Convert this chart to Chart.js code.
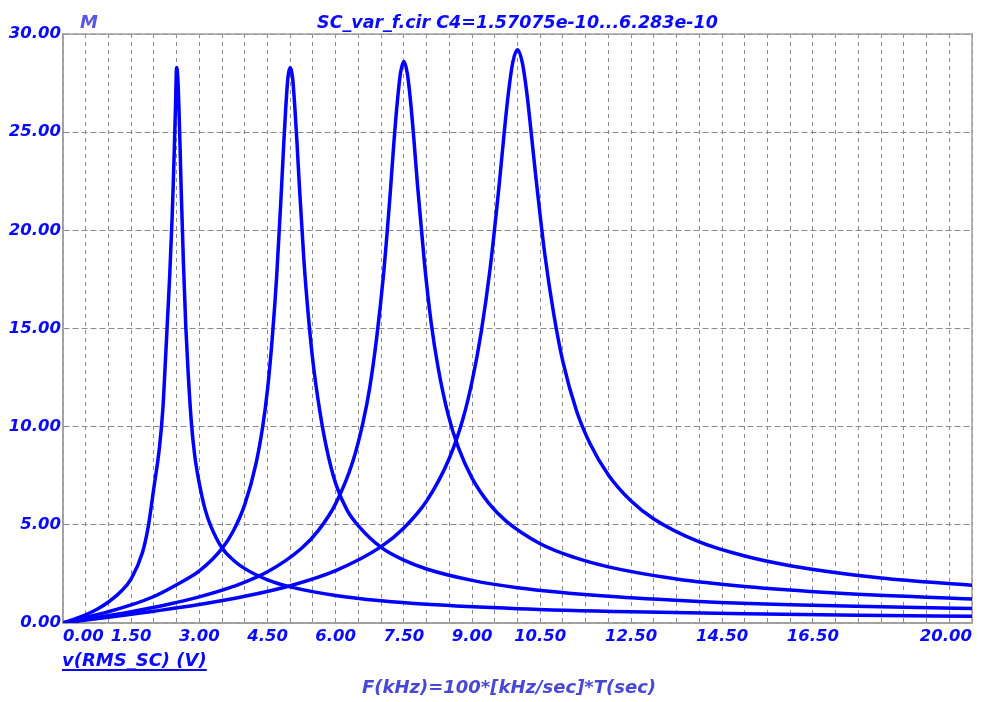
<!DOCTYPE html>
<html>
<head>
<meta charset="utf-8">
<script src="https://cdn.jsdelivr.net/npm/chart.js@4.4.1/dist/chart.umd.min.js"></script>
<style>
html, body { margin: 0; padding: 0; background: #fff; }
#wrap { width: 999px; height: 702px; }
</style>
</head>
<body>
<div id="wrap"><canvas id="chart" width="999" height="702"></canvas></div>
<script>
// curve 1 (resonance near 2.5)
const c1x = [0, 0.25, 0.5, 0.75, 1.0, 1.25, 1.5, 1.75, 1.875, 2.0, 2.125, 2.2, 2.25, 2.3, 2.35, 2.4, 2.425, 2.45, 2.475, 2.5, 2.525, 2.55, 2.575, 2.6, 2.65, 2.7, 2.75, 2.825, 2.9, 3.0, 3.125, 3.25, 3.5, 3.75, 4.0, 4.5, 5.0, 6.0, 7.0, 8.0, 10.0, 12.5, 15.0, 17.5, 20.0];
const c1y = [0, 0.2, 0.42, 0.7, 1.07, 1.55, 2.25, 3.6, 4.9, 6.9, 9.0, 11.0, 13.2, 15.5, 17.8, 20.6, 22.3, 24.2, 26.3, 28.3, 27.8, 26.3, 24.3, 22.1, 18.3, 15.2, 12.9, 10.2, 8.5, 7.1, 5.8, 4.95, 3.82, 3.2, 2.77, 2.2, 1.84, 1.4, 1.13, 0.95, 0.73, 0.57, 0.47, 0.40, 0.34];
// curve 2 (near 5)
const c2x = [0, 0.5, 1.0, 1.5, 2.0, 2.5, 3.0, 3.5, 3.75, 4.0, 4.25, 4.4, 4.5, 4.6, 4.7, 4.8, 4.85, 4.9, 4.95, 5.0, 5.05, 5.1, 5.15, 5.2, 5.3, 5.4, 5.5, 5.65, 5.8, 6.0, 6.25, 6.5, 7.0, 7.5, 8.0, 9.0, 10.0, 12.0, 14.0, 16.0, 18.0, 20.0];
const c2y = [0, 0.28, 0.58, 0.92, 1.35, 1.95, 2.65, 3.8, 4.7, 6.04, 8.16, 10.1, 11.9, 14.4, 17.6, 21.8, 24.1, 26.2, 27.8, 28.3, 27.8, 26.3, 24.4, 22.3, 18.5, 15.6, 13.3, 10.8, 8.9, 7.1, 5.75, 4.95, 3.85, 3.2, 2.75, 2.17, 1.8, 1.36, 1.1, 0.93, 0.83, 0.74];
// curve 3 (near 7.5)
const c3x = [0, 0.75, 1.5, 2.25, 3.0, 3.75, 4.5, 5.25, 5.625, 6.0, 6.375, 6.6, 6.75, 6.9, 7.05, 7.2, 7.275, 7.35, 7.425, 7.5, 7.575, 7.65, 7.725, 7.8, 7.95, 8.1, 8.25, 8.475, 8.7, 9.0, 9.375, 9.75, 10.5, 11.25, 12.0, 13.5, 15.0, 17.0, 20.0];
const c3y = [0, 0.28, 0.58, 0.92, 1.33, 1.86, 2.61, 3.81, 4.73, 6.08, 8.21, 10.2, 12.0, 14.5, 17.7, 21.9, 24.3, 26.4, 28.0, 28.6, 28.0, 26.5, 24.5, 22.3, 18.4, 15.3, 13.05, 10.6, 8.93, 7.38, 6.08, 5.19, 4.04, 3.34, 2.86, 2.24, 1.86, 1.53, 1.22];
// curve 4 (near 10)
const c4x = [0, 1, 2, 3, 4, 5, 6, 7, 7.5, 8, 8.5, 8.8, 9, 9.2, 9.4, 9.6, 9.7, 9.8, 9.9, 10, 10.1, 10.2, 10.3, 10.4, 10.6, 10.8, 11, 11.3, 11.6, 12, 12.5, 13, 14, 15, 16, 18, 20];
const c4y = [0, 0.29, 0.6, 0.94, 1.36, 1.9, 2.67, 3.89, 4.84, 6.21, 8.39, 10.4, 12.3, 14.8, 18.1, 22.4, 24.8, 27.0, 28.6, 29.2, 28.6, 27.1, 25.0, 22.8, 18.8, 15.7, 13.3, 10.8, 9.12, 7.54, 6.21, 5.3, 4.13, 3.41, 2.92, 2.29, 1.92];

const xLabels = [0, 1.5, 3, 4.5, 6, 7.5, 9, 10.5, 12.5, 14.5, 16.5, 20];
const xStep = 0.5;
const yStep = 5;

const titleText = "SC_var_f.cir C4=1.57075e-10...6.283e-10";
const yName = "v(RMS_SC) (V)";
const xName = "F(kHz)=100*[kHz/sec]*T(sec)";

const blue = "#0a0aff";
const fontFam = '"DejaVu Sans", sans-serif';

function pts(xs, ys) {
    return xs.map((x, i) => ({ x: x, y: ys[i] }));
}

const gridX = [];
for (let v = 0; v <= 20; v += xStep) gridX.push(v);

const frameAndText = {
    id: "frameAndText",
    beforeDatasetsDraw(chart) {
        const ctx = chart.ctx, a = chart.chartArea;
        ctx.save();
        ctx.setLineDash([]);
        ctx.strokeStyle = "#a0a0a0";
        ctx.lineWidth = 1.5;
        ctx.strokeRect(a.left, a.top, a.right - a.left, a.bottom - a.top);
        ctx.restore();
    },
    afterDraw(chart) {
        const ctx = chart.ctx, a = chart.chartArea;
        ctx.save();
        ctx.textBaseline = "alphabetic";
        ctx.font = "italic bold 17.5px " + fontFam;
        ctx.fillStyle = blue;
        ctx.textAlign = "center";
        ctx.fillText(titleText, (a.left + a.right) / 2, 28);

        ctx.fillStyle = "#5858e0";
        ctx.textAlign = "left";
        ctx.font = "italic bold 18px " + fontFam;
        ctx.fillText("M", 80, 28);

        // y quantity, underlined
        ctx.fillStyle = blue;
        ctx.font = "italic bold 18px " + fontFam;
        ctx.fillText(yName, 62, 666);
        const w = ctx.measureText(yName).width;
        ctx.fillRect(62, 669, w, 2);

        ctx.fillStyle = "#4848d4";
        ctx.textAlign = "center";
        ctx.fillText(xName, 509, 693);
        ctx.restore();
    }
};

const lineStyle = {
    showLine: true,
    borderColor: "#0000ff",
    borderWidth: 3.5,
    pointRadius: 0,
    fill: false,
    cubicInterpolationMode: "monotone"
};

new Chart(document.getElementById("chart").getContext("2d"), {
    type: "scatter",
    data: {
        datasets: [
            Object.assign({ label: "C1", data: pts(c1x, c1y) }, lineStyle),
            Object.assign({ label: "C2", data: pts(c2x, c2y) }, lineStyle),
            Object.assign({ label: "C3", data: pts(c3x, c3y) }, lineStyle),
            Object.assign({ label: "C4", data: pts(c4x, c4y) }, lineStyle)
        ]
    },
    options: {
        responsive: false,
        animation: false,
        layout: { padding: { top: 34, right: 27, left: 0, bottom: 0 } },
        plugins: { legend: { display: false }, tooltip: { enabled: false } },
        scales: {
            x: {
                type: "linear",
                min: 0,
                max: 20,
                afterBuildTicks: s => { s.ticks = gridX.map(v => ({ value: v })); },
                afterFit: s => { s.height = 79; },
                grid: { color: "#8a8a8a", lineWidth: 1, drawTicks: false },
                border: { display: true, color: "#a0a0a0", width: 1.5, dash: [4, 4] },
                ticks: {
                    autoSkip: false,
                    maxRotation: 0,
                    align: "inner",
                    padding: 4,
                    color: blue,
                    font: { family: fontFam, size: 16.5, style: "italic", weight: "bold" },
                    callback: v => xLabels.includes(v) ? v.toFixed(2) : ""
                }
            },
            y: {
                min: 0,
                max: 30,
                afterFit: s => { s.width = 63; },
                grid: { color: "#8a8a8a", lineWidth: 1, drawTicks: false },
                border: { display: true, color: "#a0a0a0", width: 1.5, dash: [6, 3] },
                ticks: {
                    stepSize: yStep,
                    padding: 2,
                    color: blue,
                    font: { family: fontFam, size: 16.5, style: "italic", weight: "bold" },
                    callback: v => v.toFixed(2)
                }
            }
        }
    },
    plugins: [frameAndText]
});
</script>
</body>
</html>
